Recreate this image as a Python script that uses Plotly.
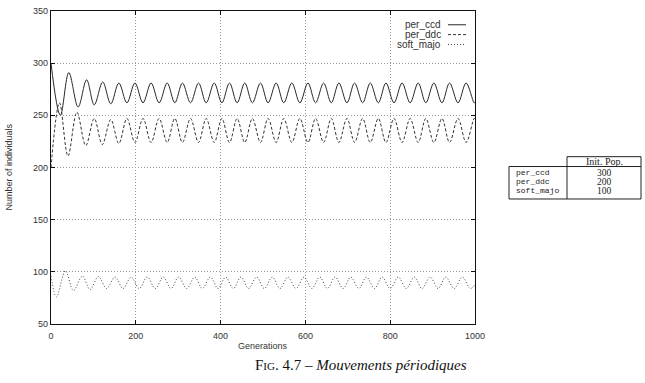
import plotly.graph_objects as go

# ---- data (local extrema of each curve) ----
ccd_x = [0, 22, 42, 64, 84, 102, 122, 141, 160, 179, 198, 217, 236, 255, 274, 292, 310, 329, 348, 366,
         385, 403, 421, 439, 457, 475, 494, 512, 531, 549, 568, 587, 606, 624, 643, 661, 679, 698, 716,
         735, 753, 772, 790, 809, 828, 847, 866, 884, 903, 922, 940, 960, 979, 998, 1000]
ccd_y = [300, 250, 291, 258, 284, 260, 282, 261, 281, 262, 281, 262, 281, 262, 281, 262, 281, 262, 281, 262,
         281, 262, 281, 262, 281, 262, 281, 262, 281, 262, 281, 262, 281, 262, 281, 262, 281, 262, 281,
         262, 281, 262, 281, 262, 281, 262, 281, 262, 281, 262, 281, 262, 281, 262, 262.5]

ddc_x = [0, 20, 40, 61, 82, 102, 121, 141, 160, 179, 198, 217, 236, 255, 274, 292, 310, 329, 348, 366,
         385, 403, 421, 439, 457, 475, 494, 512, 531, 549, 568, 587, 606, 624, 643, 661, 679, 698, 716,
         735, 753, 772, 790, 809, 828, 847, 866, 884, 903, 922, 940, 960, 979, 998, 1000]
ddc_y = [200, 262, 211, 253, 221, 247, 222, 246, 223, 247, 224, 247, 224, 247, 224, 247, 224, 247, 224, 247,
         224, 247, 224, 247, 224, 247, 224, 247, 224, 247, 224, 247, 224, 247, 224, 247, 224, 247, 224,
         247, 224, 247, 224, 247, 224, 247, 224, 247, 224, 247, 224, 247, 224, 247, 246.5]

soft_x = [0, 13, 34, 53, 74, 92, 112, 131, 151, 170, 189, 208, 227, 246, 265, 283, 301, 320, 339, 357,
          376, 394, 412, 430, 448, 466, 485, 503, 522, 540, 559, 578, 597, 615, 634, 652, 670, 689, 707,
          726, 744, 763, 781, 800, 819, 838, 857, 875, 894, 913, 931, 951, 970, 989, 1000]
soft_y = [96, 76, 101, 82, 96, 83, 95.5, 84, 95, 84, 95, 84, 95, 84, 95, 84, 95, 84, 95, 84,
          95, 84, 95, 84, 95, 84, 95, 84, 95, 84, 95, 84, 95, 84, 95, 84, 95, 84, 95,
          84, 95, 84, 95, 84, 95, 84, 95, 84, 95, 84, 95, 84, 95, 84, 88]

series_names = ["per_ccd", "per_ddc", "soft_majo"]
init_pop = ["300", "200", "100"]
x_ticks = [0, 200, 400, 600, 800, 1000]
y_ticks = [50, 100, 150, 200, 250, 300, 350]

# ---- layout geometry (pixels) ----
FW, FH = 645, 383
L, R, T, B = 51, 170, 6, 59
PW, PH = FW - L - R, FH - T - B


def px(p):
    return (p - L) / PW


def py(p):
    return (FH - B - p) / PH


SANS = "Liberation Sans, Arial, sans-serif"
SERIF = "Liberation Serif, DejaVu Serif, serif"
MONO = "Liberation Mono, DejaVu Sans Mono, monospace"

styles = [
    dict(color="#2a2a2a", width=1.0, dash="solid"),
    dict(color="#333", width=1.0, dash="3px,2px"),
    dict(color="#444", width=1.0, dash="1px,2px"),
]

fig = go.Figure()
for name, xs, ys, st in zip(series_names, [ccd_x, ddc_x, soft_x], [ccd_y, ddc_y, soft_y], styles):
    fig.add_trace(go.Scatter(x=xs, y=ys, mode="lines", name=name,
                             line=dict(shape="spline", smoothing=1.0, **st),
                             showlegend=False, hoverinfo="skip"))

axis_common = dict(showline=True, linecolor="#111", linewidth=1.2, mirror="allticks",
                   ticks="inside", ticklen=4, tickcolor="#111", tickwidth=1,
                   showgrid=True, gridcolor="#999", griddash="1px,2px", gridwidth=1,
                   zeroline=False, tickfont=dict(family=SANS, size=9, color="#333"))

fig.update_layout(
    width=FW, height=FH,
    margin=dict(l=L, r=R, t=T, b=B),
    paper_bgcolor="white", plot_bgcolor="white",
    xaxis=dict(range=[0, 1000], tickvals=x_ticks, ticklabelstandoff=3, **axis_common),
    yaxis=dict(range=[50, 350], tickvals=y_ticks, **axis_common),
    showlegend=False,
)

annotations = []
shapes = []

# axis titles
annotations.append(dict(text="Generations", x=0.5, y=py(346), xref="paper", yref="paper",
                        showarrow=False, font=dict(family=SANS, size=9, color="#333"),
                        xanchor="center", yanchor="middle"))
annotations.append(dict(text="Number of individuals", x=px(8), y=0.5, xref="paper", yref="paper",
                        textangle=-90, showarrow=False, font=dict(family=SANS, size=9, color="#333"),
                        xanchor="center", yanchor="middle"))

# gnuplot-style key (text then line sample)
key_rows = [20, 30, 40]
for name, st, yy in zip(series_names, styles, key_rows):
    annotations.append(dict(text=name, x=px(443), y=py(yy), xref="paper", yref="paper",
                            showarrow=False, font=dict(family=SANS, size=10, color="#333"),
                            xanchor="right", yanchor="middle"))
    shapes.append(dict(type="line", xref="paper", yref="paper",
                       x0=px(448), x1=px(466), y0=py(yy), y1=py(yy),
                       line=dict(color=st["color"], width=1.0, dash=st["dash"])))

# table
tl, tm, tr = 509, 567, 641
ttop, thead, tbot = 154, 164, 197
tline = dict(color="#222", width=1)
for (x0, x1, y0, y1) in [
    (tm, tr, ttop, ttop), (tl, tr, thead, thead), (tl, tr, tbot, tbot),
    (tl, tl, thead, tbot), (tm, tm, ttop, tbot), (tr, tr, ttop, tbot),
]:
    shapes.append(dict(type="line", xref="paper", yref="paper",
                       x0=px(x0), x1=px(x1), y0=py(y0), y1=py(y1), line=tline))
annotations.append(dict(text="Init. Pop.", x=px((tm + tr) / 2), y=py(159), xref="paper", yref="paper",
                        showarrow=False, font=dict(family=SERIF, size=10, color="#222"),
                        xanchor="center", yanchor="middle"))
for name, val, yy in zip(series_names, init_pop, [170.5, 179.5, 188.5]):
    annotations.append(dict(text=name, x=px(514), y=py(yy), xref="paper", yref="paper",
                            showarrow=False, font=dict(family=MONO, size=8, color="#222"),
                            xanchor="left", yanchor="middle"))
    annotations.append(dict(text=val, x=px((tm + tr) / 2), y=py(yy), xref="paper", yref="paper",
                            showarrow=False, font=dict(family=SERIF, size=9.5, color="#222"),
                            xanchor="center", yanchor="middle"))

# caption
annotations.append(dict(
    text="F<span style='font-size:11px'>IG</span>. 4.7 – <i>Mouvements périodiques</i>",
    x=px(361), y=py(366), xref="paper", yref="paper", showarrow=False,
    font=dict(family=SERIF, size=15, color="#111"), xanchor="center", yanchor="middle"))

fig.update_layout(annotations=annotations, shapes=shapes)
fig.write_html("out.html")
